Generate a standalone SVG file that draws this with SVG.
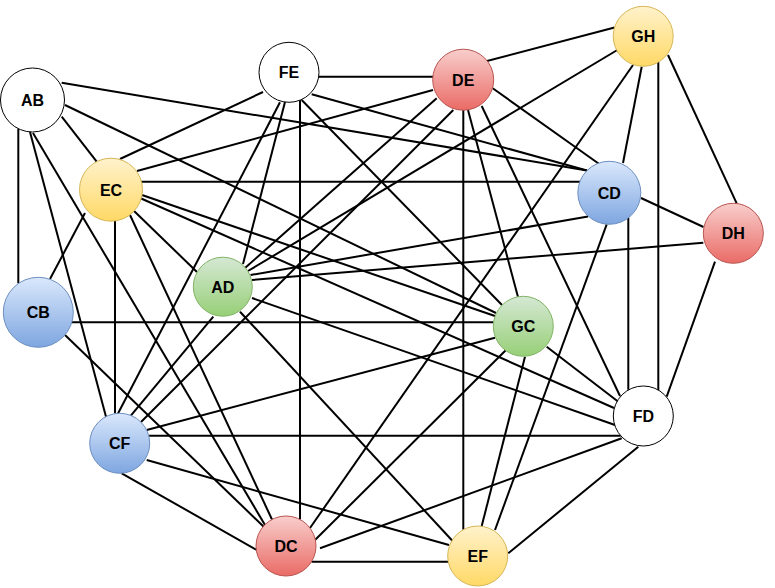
<svg xmlns="http://www.w3.org/2000/svg" width="775" height="588" viewBox="0 0 775 588">
<style>
  .e line { stroke: #000; stroke-width: 2; fill: none; }
  .n text { font-family: "Liberation Sans", Arial, sans-serif; font-weight: bold; font-size: 16px; text-anchor: middle; fill: #000; }
  .w { fill: #fff; stroke: #000; stroke-width: 1; }
  .r { fill: url(#gr); stroke: #b85450; stroke-width: 1; }
  .y { fill: url(#gy); stroke: #d6b656; stroke-width: 1; }
  .b { fill: url(#gb); stroke: #6c8ebf; stroke-width: 1; }
  .g { fill: url(#gg); stroke: #82b366; stroke-width: 1; }
</style>
<defs>
  <linearGradient id="gr" x1="0" y1="0" x2="0" y2="1"><stop offset="0" stop-color="#f8cecc"/><stop offset="1" stop-color="#ea6b66"/></linearGradient>
  <linearGradient id="gy" x1="0" y1="0" x2="0" y2="1"><stop offset="0" stop-color="#fff2cc"/><stop offset="1" stop-color="#ffd966"/></linearGradient>
  <linearGradient id="gb" x1="0" y1="0" x2="0" y2="1"><stop offset="0" stop-color="#dae8fc"/><stop offset="1" stop-color="#7ea6e0"/></linearGradient>
  <linearGradient id="gg" x1="0" y1="0" x2="0" y2="1"><stop offset="0" stop-color="#d5e8d4"/><stop offset="1" stop-color="#97d077"/></linearGradient>
</defs>
<rect width="775" height="588" fill="#fff"/>
<g id="edges" class="e">
  <line x1="61.7" y1="82.7" x2="587" y2="170.5"/>
  <line x1="65" y1="105" x2="496" y2="313"/>
  <line x1="61.7" y1="116.7" x2="96.7" y2="161.7"/>
  <line x1="18.3" y1="128.7" x2="18.3" y2="283.3"/>
  <line x1="30" y1="132" x2="106" y2="416.7"/>
  <line x1="33" y1="133" x2="265" y2="525"/>
  <line x1="318.6" y1="76.7" x2="433.2" y2="76.7"/>
  <line x1="263" y1="92" x2="120" y2="159"/>
  <line x1="285" y1="102" x2="243" y2="264"/>
  <line x1="280" y1="102.3" x2="118" y2="413.5"/>
  <line x1="300" y1="100" x2="300" y2="519.5"/>
  <line x1="311.7" y1="94.3" x2="587" y2="170.5"/>
  <line x1="301.7" y1="100" x2="502" y2="305"/>
  <line x1="487" y1="61" x2="614.5" y2="27.5"/>
  <line x1="433" y1="90" x2="137" y2="171"/>
  <line x1="492.7" y1="88.3" x2="598.5" y2="163.5"/>
  <line x1="463.3" y1="110" x2="463.3" y2="529.8"/>
  <line x1="468" y1="110" x2="518" y2="297"/>
  <line x1="481.7" y1="106" x2="620" y2="396"/>
  <line x1="436.7" y1="98.3" x2="245" y2="268"/>
  <line x1="453.3" y1="110" x2="141" y2="422"/>
  <line x1="619" y1="49" x2="248" y2="271"/>
  <line x1="633" y1="65" x2="310" y2="528"/>
  <line x1="641.7" y1="66.7" x2="623" y2="163"/>
  <line x1="658.3" y1="61.8" x2="658.3" y2="390.2"/>
  <line x1="668" y1="55" x2="736.7" y2="203.3"/>
  <line x1="641" y1="198" x2="703.5" y2="227"/>
  <line x1="588" y1="216.5" x2="250.5" y2="275"/>
  <line x1="140.9" y1="181.7" x2="580.1" y2="181.7"/>
  <line x1="606.7" y1="224.3" x2="495" y2="530"/>
  <line x1="628.3" y1="217.3" x2="628.3" y2="389.8"/>
  <line x1="715" y1="261.7" x2="666.7" y2="396.7"/>
  <line x1="703.3" y1="242.7" x2="252" y2="280"/>
  <line x1="85" y1="213" x2="50" y2="279"/>
  <line x1="115" y1="220.7" x2="115" y2="413.4"/>
  <line x1="130" y1="215" x2="272" y2="519.5"/>
  <line x1="133" y1="210" x2="197" y2="272"/>
  <line x1="142" y1="195" x2="495" y2="316"/>
  <line x1="140" y1="198" x2="614" y2="408"/>
  <line x1="252" y1="298" x2="615" y2="425"/>
  <line x1="240" y1="311.7" x2="453.3" y2="541.7"/>
  <line x1="213.3" y1="316.7" x2="130" y2="416.7"/>
  <line x1="71.8" y1="322.3" x2="493.6" y2="322.3"/>
  <line x1="65" y1="335" x2="264" y2="527"/>
  <line x1="146.7" y1="430" x2="495" y2="337.7"/>
  <line x1="149.1" y1="435.7" x2="620.7" y2="435.7"/>
  <line x1="146.7" y1="460" x2="449" y2="545"/>
  <line x1="121.7" y1="473.3" x2="256.7" y2="550"/>
  <line x1="315" y1="540" x2="506" y2="350"/>
  <line x1="320" y1="548.3" x2="621.7" y2="438.3"/>
  <line x1="311.6" y1="561.7" x2="448.2" y2="561.7"/>
  <line x1="546.7" y1="346.7" x2="618.3" y2="401.7"/>
  <line x1="525" y1="356.7" x2="481.7" y2="526"/>
  <line x1="638.3" y1="446.7" x2="508.3" y2="553.3"/>
</g>
<g id="AB" class="n"><circle class="w" cx="32.5" cy="100" r="32"/><text x="32.5" y="106">AB</text></g>
<g id="FE" class="n"><circle class="w" cx="289" cy="72.3" r="30"/><text x="289" y="78.3">FE</text></g>
<g id="DE" class="n"><circle class="r" cx="463.2" cy="79.7" r="30.5"/><text x="463.2" y="85.7">DE</text></g>
<g id="GH" class="n"><circle class="y" cx="643.2" cy="36.3" r="30"/><text x="643.2" y="42.3">GH</text></g>
<g id="CD" class="n"><circle class="b" cx="609.3" cy="192.8" r="31.5"/><text x="609.3" y="198.8">CD</text></g>
<g id="DH" class="n"><circle class="r" cx="733.3" cy="233.3" r="30"/><text x="733.3" y="239.3">DH</text></g>
<g id="EC" class="n"><circle class="y" cx="111" cy="189.7" r="31.5"/><text x="111" y="195.7">EC</text></g>
<g id="AD" class="n"><circle class="g" cx="222.8" cy="286.7" r="29.5"/><text x="222.8" y="292.7">AD</text></g>
<g id="CB" class="n"><circle class="b" cx="38.3" cy="312.3" r="35"/><text x="38.3" y="318.3">CB</text></g>
<g id="GC" class="n"><circle class="g" cx="523.3" cy="326.3" r="30"/><text x="523.3" y="332.3">GC</text></g>
<g id="FD" class="n"><circle class="w" cx="643.3" cy="416" r="30"/><text x="643.3" y="422">FD</text></g>
<g id="CF" class="n"><circle class="b" cx="119.7" cy="443.3" r="30"/><text x="119.7" y="449.3">CF</text></g>
<g id="DC" class="n"><circle class="r" cx="286" cy="546" r="30"/><text x="286" y="552">DC</text></g>
<g id="EF" class="n"><circle class="y" cx="477.7" cy="556" r="30"/><text x="477.7" y="562">EF</text></g>
</svg>
